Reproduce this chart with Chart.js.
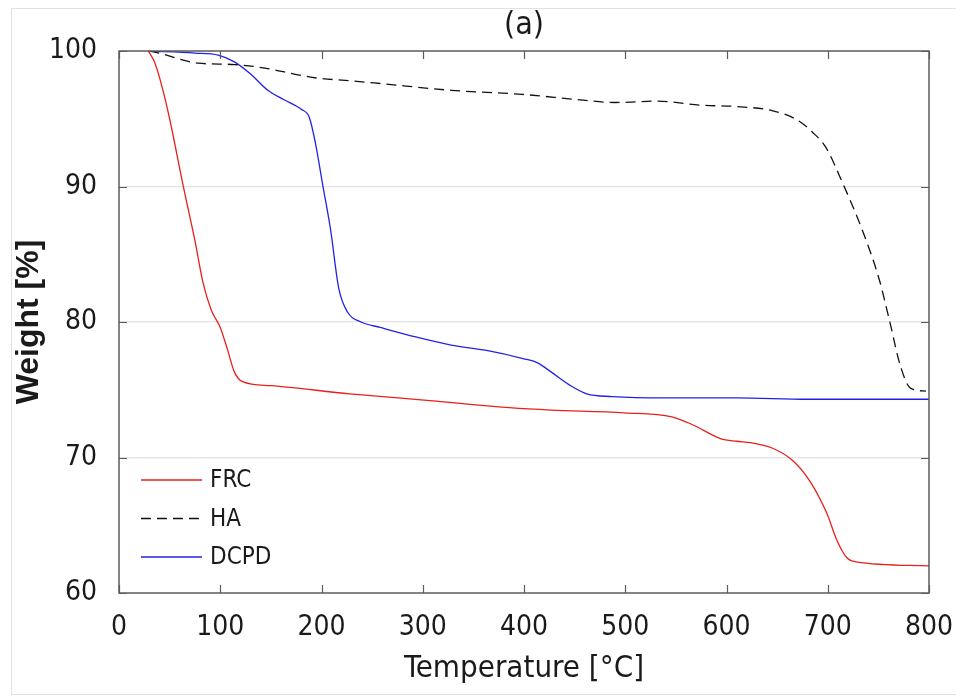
<!DOCTYPE html>
<html>
<head>
<meta charset="utf-8">
<script src="https://cdn.jsdelivr.net/npm/chart.js@4.4.1/dist/chart.umd.min.js"></script>
<style>
  body { margin: 0; background: #fff; }
  #wrap { position: relative; width: 961px; height: 696px; }
  #edge { position: absolute; left: 11px; top: 8px; width: 944px; height: 685px;
          border-left: 1px solid #e2e2e2; border-top: 1px solid #e2e2e2; border-bottom: 1px solid #e2e2e2; }
  canvas { position: absolute; left: 0; top: 0; }
</style>
</head>
<body>
<div id="wrap">
  <div id="edge"></div>
  <canvas id="tga" width="961" height="696"></canvas>
</div>
<script>
var chartTitle = "(a)";
var xTicks = [0, 100, 200, 300, 400, 500, 600, 700, 800];
var yTicks = [60, 70, 80, 90, 100];

// FRC
var frcT = [29, 35, 42, 50, 63, 75, 83, 91, 100, 107, 114, 122, 150, 228, 307, 400, 427, 499, 546, 567, 594, 610, 624, 645, 665, 682, 699, 709, 719, 728, 800];
var frcW = [100, 99.2, 97.5, 95, 90.2, 86, 82.9, 80.9, 79.6, 78, 76.3, 75.6, 75.3, 74.7, 74.2, 73.6, 73.5, 73.3, 73, 72.4, 71.4, 71.2, 71.1, 70.7, 69.8, 68.3, 65.9, 63.9, 62.6, 62.3, 62.0];

// HA
var haT = [30, 42, 60, 78, 114, 147, 173, 196, 229, 258, 328, 398, 455, 490, 532, 575, 610, 645, 670, 685, 698, 715, 733, 751, 761, 772, 782, 797];
var haW = [100, 99.8, 99.4, 99.1, 99.0, 98.7, 98.3, 98.0, 97.8, 97.6, 97.1, 96.8, 96.4, 96.2, 96.3, 96.0, 95.9, 95.6, 94.9, 94.0, 92.9, 90.2, 87, 83.1, 80.1, 76.7, 75.1, 74.9];

// DCPD
var dcpdT = [30, 75, 98, 114, 130, 147, 163, 180, 188, 194, 201, 209, 217, 226, 239, 258, 293, 328, 363, 399, 413, 427, 444, 462, 487, 539, 610, 680, 800];
var dcpdW = [100, 99.85, 99.7, 99.2, 98.3, 97.1, 96.4, 95.7, 95.1, 93.2, 90.2, 86.8, 82.5, 80.7, 80.0, 79.6, 78.9, 78.3, 77.9, 77.3, 77.0, 76.3, 75.4, 74.7, 74.5, 74.4, 74.4, 74.3, 74.3];

var tickFont = '"DejaVu Sans Condensed", "Liberation Sans Narrow", "DejaVu Sans", sans-serif';

function toPoints(xs, ys) {
  var pts = [];
  for (var i = 0; i < xs.length; i++) pts.push({ x: xs[i], y: ys[i] });
  return pts;
}

function series(label, xs, ys, color, dash) {
  return {
    label: label,
    data: toPoints(xs, ys),
    borderColor: color,
    borderWidth: 1.3,
    borderDash: dash,
    pointRadius: 0,
    fill: false,
    cubicInterpolationMode: 'monotone'
  };
}

// box, inward ticks, title and legend
var framePlugin = {
  id: 'frame',
  afterDraw: function (chart) {
    var ctx = chart.ctx, a = chart.chartArea;
    var xs = chart.scales.x, ys = chart.scales.y;
    ctx.save();
    ctx.strokeStyle = '#5c5c5c';
    ctx.lineWidth = 1.5;
    ctx.strokeRect(a.left, a.top, a.right - a.left, a.bottom - a.top);
    ctx.beginPath();
    xTicks.forEach(function (v) {
      var px = Math.round(xs.getPixelForValue(v)) + 0.5;
      ctx.moveTo(px, a.bottom); ctx.lineTo(px, a.bottom - 8);
      ctx.moveTo(px, a.top); ctx.lineTo(px, a.top + 8);
    });
    yTicks.forEach(function (v) {
      var py = Math.round(ys.getPixelForValue(v)) + 0.5;
      ctx.moveTo(a.left, py); ctx.lineTo(a.left + 8, py);
      ctx.moveTo(a.right, py); ctx.lineTo(a.right - 8, py);
    });
    ctx.lineWidth = 1.2;
    ctx.stroke();

    ctx.fillStyle = '#1a1a1a';
    ctx.font = '32px ' + tickFont;
    ctx.textAlign = 'center';
    ctx.textBaseline = 'middle';
    ctx.fillText(chartTitle, (a.left + a.right) / 2, 26);

    ctx.font = '24px ' + tickFont;
    ctx.textAlign = 'left';
    chart.data.datasets.forEach(function (ds, i) {
      var y = a.bottom - 113 + i * 38.5;
      ctx.beginPath();
      ctx.strokeStyle = ds.borderColor;
      ctx.lineWidth = 1.3;
      ctx.setLineDash(ds.borderDash || []);
      ctx.moveTo(a.left + 22, y);
      ctx.lineTo(a.left + 83, y);
      ctx.stroke();
      ctx.setLineDash([]);
      ctx.fillText(ds.label, a.left + 91, y + 1);
    });
    ctx.restore();
  }
};

new Chart(document.getElementById('tga'), {
  type: 'line',
  data: {
    datasets: [
      series('FRC', frcT, frcW, '#e8201c', []),
      series('HA', haT, haW, '#111111', [10, 6]),
      series('DCPD', dcpdT, dcpdW, '#2222e6', [])
    ]
  },
  options: {
    responsive: false,
    animation: false,
    devicePixelRatio: 1,
    layout: { padding: { left: 0, right: 32, top: 51, bottom: 0 } },
    plugins: {
      legend: { display: false },
      title: { display: false },
      tooltip: { enabled: false }
    },
    scales: {
      x: {
        type: 'linear',
        min: 0,
        max: 800,
        afterFit: function (s) { s.height = 103; s.paddingLeft = 0; s.paddingRight = 0; },
        afterBuildTicks: function (s) { s.ticks = xTicks.map(function (v) { return { value: v }; }); },
        grid: { display: false, drawTicks: false },
        border: { display: false },
        ticks: { color: '#1a1a1a', padding: 18, maxRotation: 0, font: { family: tickFont, size: 28 } },
        title: {
          display: true,
          text: 'Temperature [°C]',
          color: '#1a1a1a',
          font: { family: tickFont, size: 31 },
          padding: { top: 4, bottom: 8 }
        }
      },
      y: {
        type: 'linear',
        min: 60,
        max: 100,
        afterFit: function (s) { s.width = 119; s.paddingTop = 0; s.paddingBottom = 0; },
        afterBuildTicks: function (s) { s.ticks = yTicks.map(function (v) { return { value: v }; }); },
        grid: {
          drawTicks: false,
          color: function (c) { return (c.tick.value === 60 || c.tick.value === 100) ? 'rgba(0,0,0,0)' : '#e2e2e2'; },
          lineWidth: 1.2
        },
        border: { display: false },
        ticks: { color: '#1a1a1a', padding: 22, font: { family: tickFont, size: 28 } },
        title: {
          display: true,
          text: 'Weight [%]',
          color: '#1a1a1a',
          font: { family: '"Liberation Sans", Arial, sans-serif', size: 32, weight: 'bold' },
          padding: { top: 10, bottom: 0 }
        }
      }
    }
  },
  plugins: [framePlugin]
});
</script>
</body>
</html>
